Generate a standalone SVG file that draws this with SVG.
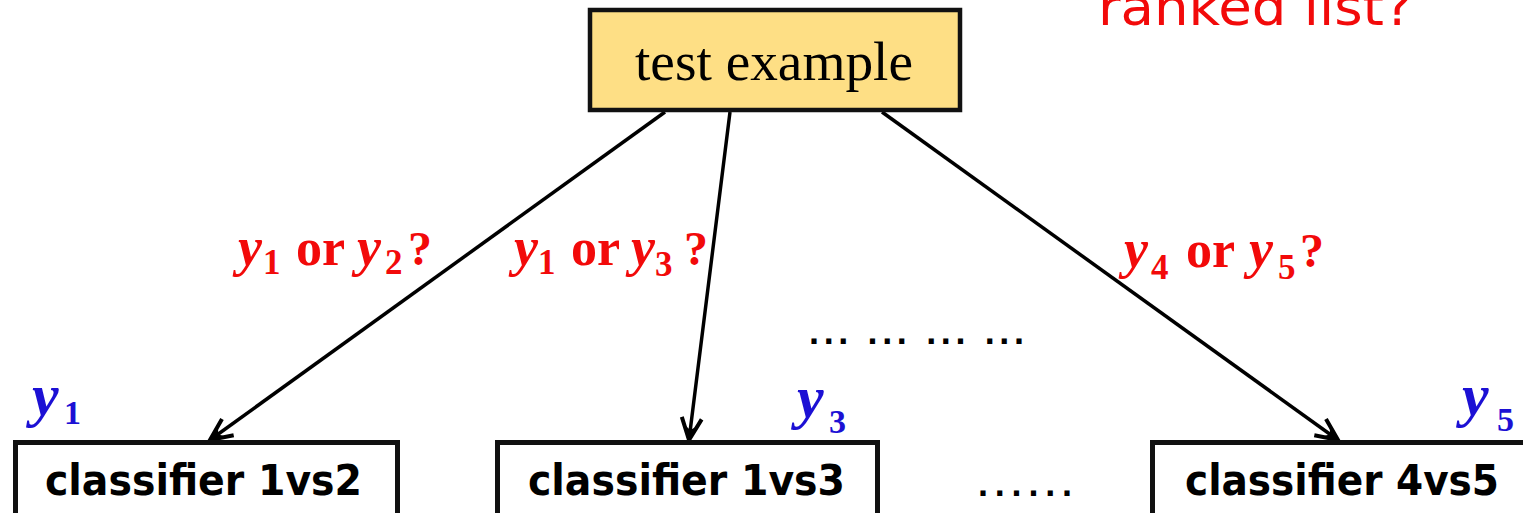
<svg xmlns="http://www.w3.org/2000/svg" width="1523" height="513" viewBox="0 0 1523 513">
<style>
.box{fill:#fff;stroke:#111;stroke-width:5}
.cls{font-family:"DejaVu Sans","Liberation Sans",sans-serif;font-weight:bold;font-size:42px;fill:#000}
.dots{font-family:"Liberation Sans",sans-serif;font-weight:bold;font-size:36px;fill:#000}
.red{font-family:"Liberation Serif",serif;font-weight:bold;fill:#f20a0a}
.blue{font-family:"Liberation Serif",serif;font-weight:bold;fill:#1c10d4}
.mi{font-style:italic}
.conn{stroke:#000;stroke-width:3.5;fill:none;marker-end:url(#ah)}
</style>
<defs>
<marker id="ah" markerUnits="userSpaceOnUse" markerWidth="30" markerHeight="30" viewBox="-28 -15 30 30" refX="0" refY="0" orient="auto">
<path d="M-22,-10 L0,0 L-22,10" fill="none" stroke="#000" stroke-width="4" stroke-linejoin="miter"/>
<path d="M0,0 L-15,-7 L-10,0 L-15,7 Z" fill="#000"/>
</marker>
</defs>
<rect width="1523" height="513" fill="#fff"/>

<text x="1098" y="25" font-family="DejaVu Sans, sans-serif" font-size="52" fill="#f20a0a" textLength="315" lengthAdjust="spacingAndGlyphs">ranked list?</text>

<g id="connectors">
<line class="conn" x1="665" y1="112" x2="210" y2="440"/>
<line class="conn" x1="730" y1="112" x2="689" y2="440"/>
<line class="conn" x1="882" y1="112" x2="1338" y2="440"/>
</g>

<g id="test-example">
<rect x="590" y="10" width="370" height="100" fill="#fedf85" stroke="#111" stroke-width="4.5"/>
<text x="635" y="80" font-family="Liberation Serif, serif" font-size="54" fill="#000" textLength="278" lengthAdjust="spacingAndGlyphs">test example</text>
</g>

<g id="label-y1y2">
<text class="red"><tspan class="mi" x="238" y="265" font-size="54">y</tspan><tspan x="263" y="274" font-size="35">1</tspan><tspan x="296" y="265" font-size="52">or</tspan><tspan class="mi" x="357" y="265" font-size="54">y</tspan><tspan x="385" y="274" font-size="35">2</tspan><tspan x="408" y="265" font-size="48">?</tspan></text>
</g>
<g id="label-y1y3">
<text class="red"><tspan class="mi" x="514" y="265" font-size="54">y</tspan><tspan x="538" y="274" font-size="35">1</tspan><tspan x="571" y="265" font-size="52">or</tspan><tspan class="mi" x="631" y="265" font-size="54">y</tspan><tspan x="655" y="276" font-size="35">3</tspan><tspan x="684" y="265" font-size="48">?</tspan></text>
</g>
<g id="label-y4y5">
<text class="red"><tspan class="mi" x="1124" y="267" font-size="54">y</tspan><tspan x="1151" y="279" font-size="35">4</tspan><tspan x="1186" y="267" font-size="52">or</tspan><tspan class="mi" x="1249" y="267" font-size="54">y</tspan><tspan x="1278" y="279" font-size="35">5</tspan><tspan x="1300" y="267" font-size="48">?</tspan></text>
</g>

<g id="mid-dots">
<text class="dots" x="809" y="344" textLength="215" lengthAdjust="spacing">... ... ... ...</text>
</g>

<g id="classifier-1vs2">
<rect class="box" x="15.5" y="442.5" width="382" height="120"/>
<text class="cls" x="45" y="495" textLength="317" lengthAdjust="spacingAndGlyphs">classifier 1vs2</text>
<text class="blue"><tspan class="mi" x="32" y="415" font-size="60">y</tspan><tspan x="64" y="424" font-size="34">1</tspan></text>
</g>

<g id="classifier-1vs3">
<rect class="box" x="497.5" y="442.5" width="380" height="120"/>
<text class="cls" x="528" y="495" textLength="317" lengthAdjust="spacingAndGlyphs">classifier 1vs3</text>
<text class="blue"><tspan class="mi" x="797" y="417" font-size="60">y</tspan><tspan x="829" y="433" font-size="34">3</tspan></text>
</g>

<g id="bottom-dots">
<text class="dots" x="978" y="496" textLength="94" lengthAdjust="spacing">......</text>
</g>

<g id="classifier-4vs5">
<rect class="box" x="1152.5" y="442.5" width="420" height="120"/>
<text class="cls" x="1185" y="495" textLength="314" lengthAdjust="spacingAndGlyphs">classifier 4vs5</text>
<text class="blue"><tspan class="mi" x="1462" y="415" font-size="60">y</tspan><tspan x="1497" y="431" font-size="34">5</tspan></text>
</g>
</svg>
